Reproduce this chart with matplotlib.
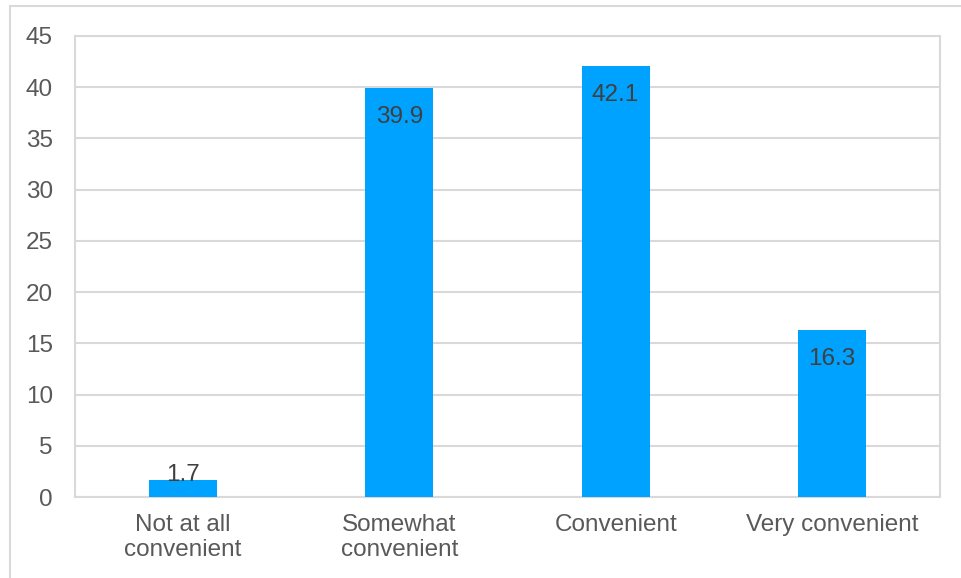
import matplotlib
matplotlib.use("Agg")
import matplotlib.pyplot as plt
from matplotlib.patches import Rectangle

categories = ["Not at all\nconvenient", "Somewhat\nconvenient", "Convenient", "Very convenient"]
values = [1.7, 39.9, 42.1, 16.3]
y_ticks = [0, 5, 10, 15, 20, 25, 30, 35, 40, 45]

plt.rcParams["font.family"] = ["Liberation Sans", "DejaVu Sans"]

W, H = 961, 578
DPI = 100
fig = plt.figure(figsize=(W / DPI, H / DPI), dpi=DPI)
fig.patch.set_facecolor("white")

# outer chart frame (right and bottom edges run off the canvas)
fig.add_artist(Rectangle((10 / W, -0.1), 1.2, (H - 6) / H + 0.1,
                         transform=fig.transFigure, fill=False,
                         edgecolor="#D9D9D9", linewidth=1.5))

left, right, top, bottom = 75, 940, 36, 497
ax = fig.add_axes([left / W, 1 - bottom / H, (right - left) / W, (bottom - top) / H])

x = range(len(categories))
bars = ax.bar(x, values, width=0.315, color="#00A2FF", zorder=3)

ax.set_xlim(-0.5, len(categories) - 0.5)
ax.set_ylim(0, 45)
ax.set_yticks(y_ticks)
ax.set_xticks(list(x))
ax.set_xticklabels(categories, linespacing=1.2)
ax.tick_params(axis="both", length=0, colors="#595959", labelsize=17.5)
ax.tick_params(axis="y", pad=16)
ax.tick_params(axis="x", pad=12)
ax.grid(axis="y", color="#D9D9D9", linewidth=1.5, zorder=0)
for s in ax.spines.values():
    s.set_color("#D9D9D9")
    s.set_linewidth(1.5)

px = 72 / DPI  # points per pixel
for b, v in zip(bars, values):
    cx = b.get_x() + b.get_width() / 2
    # short bars get the label sitting on the top edge, others inside the end
    bar_px = v / 45 * (bottom - top)
    dy = -1 * px if bar_px < 40 else -35 * px
    ax.annotate(f"{v}", (cx, v), xytext=(0, dy), textcoords="offset points",
                ha="center", va="baseline", fontsize=17.5, color="#404040", zorder=4)

fig.savefig("out.png", dpi=DPI, facecolor="white")
